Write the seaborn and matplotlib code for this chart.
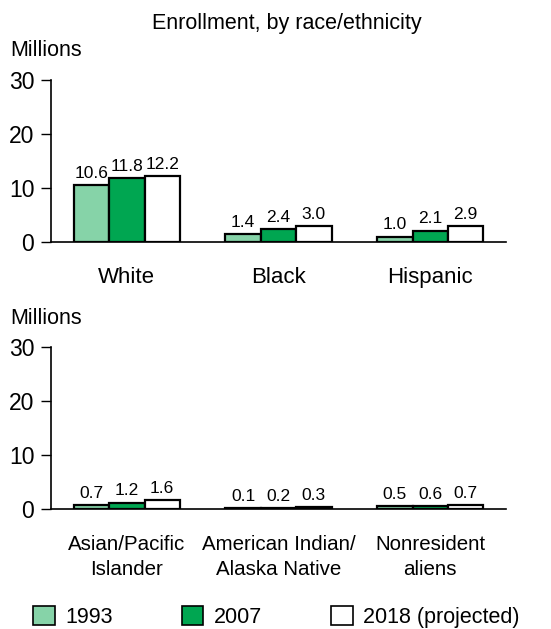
import numpy as np
import pandas as pd
import matplotlib
matplotlib.use("Agg")
import matplotlib.pyplot as plt
import seaborn as sns
from matplotlib.patches import Patch

# Data (millions)
years = ["1993", "2007", "2018 (projected)"]
top_groups = ["White", "Black", "Hispanic"]
top_1993 = [10.6, 1.4, 1.0]
top_2007 = [11.8, 2.4, 2.1]
top_2018 = [12.2, 3.0, 2.9]

bottom_groups = ["Asian/Pacific\nIslander", "American Indian/\nAlaska Native", "Nonresident\naliens"]
bottom_1993 = [0.7, 0.1, 0.5]
bottom_2007 = [1.2, 0.2, 0.6]
bottom_2018 = [1.6, 0.3, 0.7]

colors = ["#86d3a8", "#00a651", "#ffffff"]

sns.set_theme(style="white")
plt.rcParams["font.family"] = ["Liberation Sans", "DejaVu Sans"]
plt.rcParams["text.color"] = "black"
plt.rcParams["xtick.color"] = "black"
plt.rcParams["ytick.color"] = "black"


def to_frame(groups, v1, v2, v3):
    rows = []
    for vals, yr in zip([v1, v2, v3], years):
        for g, v in zip(groups, vals):
            rows.append({"group": g, "year": yr, "value": v})
    return pd.DataFrame(rows)


def draw_panel(ax, df, groups, label_size, label_pad):
    sns.barplot(data=df, x="group", y="value", hue="year", order=groups,
                hue_order=years, palette=colors, width=0.7, saturation=1,
                edgecolor="black", linewidth=1.6, legend=False, ax=ax)
    for cont in ax.containers:
        ax.bar_label(cont, fmt="%.1f", padding=3, fontsize=12.5, color="black")
    ax.set_ylim(0, 30)
    ax.set_xlim(-0.5, 2.5)
    ax.set_yticks([0, 10, 20, 30])
    ax.set_xlabel("")
    ax.set_ylabel("")
    sns.despine(ax=ax)
    for s in ["left", "bottom"]:
        ax.spines[s].set_color("black")
        ax.spines[s].set_linewidth(1.2)
    ax.tick_params(axis="y", which="both", left=True, length=7, width=1,
                   color="black", labelsize=16.5, pad=5)
    ax.tick_params(axis="x", bottom=False, labelsize=label_size, pad=label_pad)
    for lbl in ax.get_xticklabels():
        lbl.set_linespacing(1.35)


fig = plt.figure(figsize=(5.51, 6.29), dpi=100)
ax1 = fig.add_axes([0.0926, 0.6153, 0.8258, 0.2575])
ax2 = fig.add_axes([0.0926, 0.1908, 0.8258, 0.2575])

draw_panel(ax1, to_frame(top_groups, top_1993, top_2007, top_2018), top_groups, 16, 12)
draw_panel(ax2, to_frame(bottom_groups, bottom_1993, bottom_2007, bottom_2018), bottom_groups, 14.8, 13)

fig.text(0.52, 0.962, "Enrollment, by race/ethnicity", ha="center", va="center", fontsize=15.5)
fig.text(0.018, 0.920, "Millions", ha="left", va="center", fontsize=15.5)
fig.text(0.018, 0.494, "Millions", ha="left", va="center", fontsize=15.5)

handles = [Patch(facecolor=c, edgecolor="black", linewidth=1.2) for c in colors]
fig.legend(handles, years, loc="center left", bbox_to_anchor=(0.06, 0.019),
           ncol=3, frameon=False, fontsize=15.5, handlelength=1.0,
           handleheight=1.0, handletextpad=0.5, columnspacing=3.2,
           borderaxespad=0, borderpad=0)

fig.savefig("out.png", dpi=100)
